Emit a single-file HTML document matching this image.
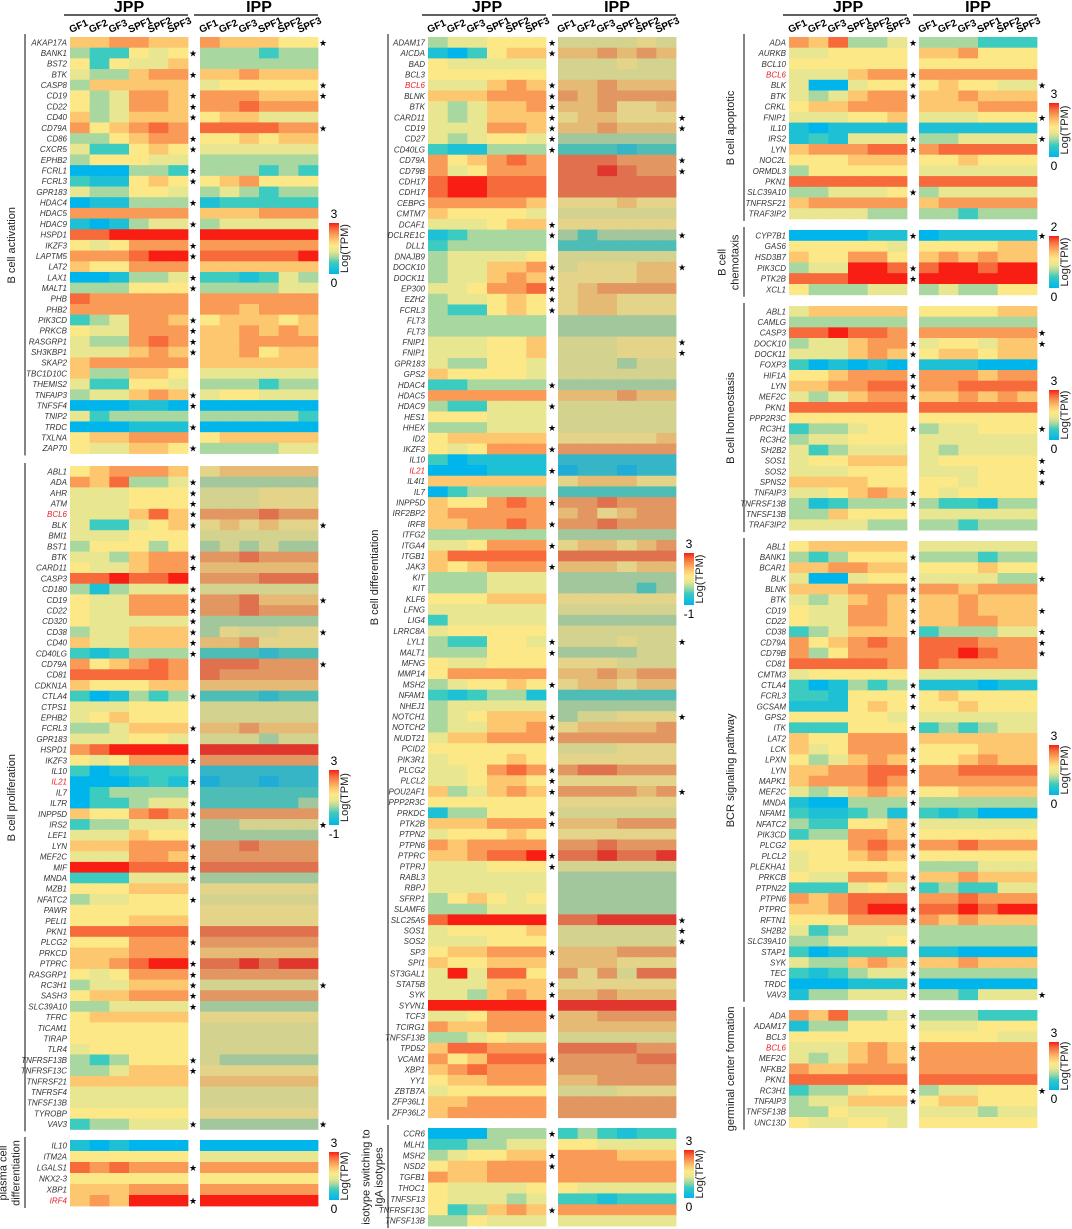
<!DOCTYPE html>
<html><head><meta charset="utf-8">
<style>
html,body{margin:0;padding:0;background:#fff;}
svg{display:block;font-family:"Liberation Sans",sans-serif;}
.g{font-size:8px;font-style:italic;fill:#333;}
.st{font-size:9px;fill:#000;}
.hd{font-size:16px;font-weight:bold;fill:#000;}
.sm{font-size:10px;font-weight:bold;fill:#000;}
.side{font-size:11px;fill:#222;}
.cb{font-size:12px;fill:#000;}
</style></head>
<body>
<svg id="fig" width="1072" height="1229" viewBox="0 0 1072 1229"></svg>
<script>
// ---------- DATA ----------
const act_genes=["AKAP17A","BANK1","BST2","BTK","CASP8","CD19","CD22","CD40","CD79A","CD86","CXCR5","EPHB2","FCRL1","FCRL3","GPR183","HDAC4","HDAC5","HDAC9","HSPD1","IKZF3","LAPTM5","LAT2","LAX1","MALT1","PHB","PHB2","PIK3CD","PRKCB","RASGRP1","SH3KBP1","SKAP2","TBC1D10C","THEMIS2","TNFAIP3","TNFSF4","TNIP2","TRDC","TXLNA","ZAP70"];
const act_vals=["667766766655","322545333233","525446333333","433677667666","366666455555","534776777666","534776778777","634666566444","756787888877","335677556566","422565444444","355544333333","000332333232","211565567555","433554343233","011333122222","777777666777","101344344444","889999999999","545777777777","777899888889","655777666666","001334221243","333555333344","877777777777","777777776777","234776566656","544777667676","433787667777","444676667566","677777666666","633665444444","422554333233","344676455444","000110000000","423333333332","000111000000","566777566666","544665333344"];
const act_stars=["2","1","","1","2","12","1","1","2","1","1","","1","1","","1","","1","","1","1","","1","1","","","1","1","1","1","","","","1","1","","1","","1"];

const pro_genes=["ABL1","ADA","AHR","ATM","BCL6","BLK","BMI1","BST1","BTK","CARD11","CASP3","CD180","CD19","CD22","CD320","CD38","CD40","CD40LG","CD79A","CD81","CDKN1A","CTLA4","CTPS1","EPHB2","FCRL3","GPR183","HSPD1","IKZF3","IL10","IL21","IL7","IL7R","INPP5D","IRS2","LEF1","LYN","MEF2C","MIF","MNDA","MZB1","NFATC2","PAWR","PELI1","PKN1","PLCG2","PRKCD","PTPRC","RASGRP1","RC3H1","SASH3","SLC39A10","TFRC","TICAM1","TIRAP","TLR4","TNFRSF13B","TNFRSF13C","TNFRSF21","TNFRSF4","TNFSF13B","TYROBP","VAV3"];
const pro_vals=["567776566666","768334333333","444555444555","444555444555","444686777877","422456565655","444555444444","355535343433","443677778777","544677666666","889889777888","313444444444","544777778666","544777778777","544444333333","344666354455","644666667555","212333222122","756787888777","888887877777","655566666666","201323222122","444555444444","456555444444","334666667666","444554444344","789999999999","545777777777","201222111111","000121011011","023333222222","022344222223","655787777777","233444334444","444655333333","666777778777","444776777777","999888888888","222444333333","555666555555","344555444444","555555555555","555666555555","888888888888","555777777777","666777666666","667899889899","545777777777","344666444444","566777777777","334444333333","566666555555","555555444444","555555444444","455555444444","323555433333","334666555555","666666666666","444444444444","444444444444","555555555555","233444333333"];
const pro_stars=["","1","1","1","1","12","","","1","1","","1","12","1","1","12","1","1","2","","","1","","","1","","","1","","1","","1","1","12","","1","1","1","1","","1","","","","1","","1","1","12","1","1","","","","","1","1","","","","","12"];

const pla_genes=["IL10","ITM2A","LGALS1","NKX2-3","XBP1","IRF4"];
const pla_vals=["101000000000","555555444444","878777777777","555555555555","666777777777","676999999999"];
const pla_stars=["","","1","","","1"];

const dif_genes=["ADAM17","AICDA","BAD","BCL3","BCL6","BLNK","BTK","CARD11","CD19","CD27","CD40LG","CD79A","CD79B","CDH17","CDH17","CEBPG","CMTM7","DCAF1","DCLRE1C","DLL1","DNAJB9","DOCK10","DOCK11","EP300","EZH2","FCRL3","FLT3","FLT3","FNIP1","FNIP1","GPR183","GPS2","HDAC4","HDAC5","HDAC9","HES1","HHEX","ID2","IKZF3","IL10","IL21","IL4I1","IL7","INPP5D","IRF2BP2","IRF8","ITFG2","ITGA4","ITGB1","JAK3","KIT","KIT","KLF6","LFNG","LIG4","LRRC8A","LYL1","MALT1","MFNG","MMP14","MSH2","NFAM1","NHEJ1","NOTCH1","NOTCH2","NUDT21","PCID2","PIK3R1","PLCG2","PLCL2","POU2AF1","PPP2R3C","PRKDC","PTK2B","PTPN2","PTPN6","PTPRC","PTPRJ","RABL3","RBPJ","SFRP1","SLAMF6","SLC25A5","SOS1","SOS2","SP3","SPI1","ST3GAL1","STAT5B","SYK","SYVN1","TCF3","TCIRG1","TNFSF13B","TPD52","VCAM1","XBP1","YY1","ZBTB7A","ZFP36L1","ZFP36L2"];
const dif_vals=["344555444454","102566667676","544444444544","555555444444","444676667666","666777767777","434667667556","434666566555","444776667666","434554333333","211333222122","756787888777","745777889877","899888888888","899888888888","777776555655","655554444444","444566555555","123333323333","233333222222","344445444444","344667455566","344676555566","445778567777","344565566555","322565566555","333333333333","333333333333","444556444555","444556444555","433554444344","655554444444","223333333333","777777666766","322444444444","555444444444","333444444444","566666555556","545777777777","201111111111","000111011011","666666566655","023333222222","655787778777","677777675677","667787778777","333333333333","445777566567","688888888888","656777666566","333444333333","333444333323","555666555555","444444444444","244444333333","455555444444","322554444544","333555333344","544555555444","577777667677","345565566566","212331222222","344444333333","345666344555","344667566667","466777777777","555555444555","455565555555","445787788777","445665555555","634676777767","555555555555","133555444444","666777666777","455565555555","767777778777","667889889889","444555444444","444444333333","444444333333","356545333333","333444333333","899999889999","455556444444","444555444444","566777666777","655666666555","494885757488","444666555555","443676667666","999999999999","445777667777","766777666666","334544444444","688777888877","756888777788","678777777777","566777667777","455555444555","667777777777","677777777777"];
const dif_stars=["1","1","","","1","1","1","12","12","1","1","2","2","","","","","1","12","","","12","1","1","1","1","","","2","2","","","1","","1","","1","","1","","1","","","1","","1","","1","","1","","","","","","","12","1","","","1","","","12","1","1","","","1","1","12","","1","1","","","1","1","","","","","2","2","2","1","","","1","1","","1","","","","1","","","","",""];

const iso_genes=["CCR6","MLH1","MSH2","NSD2","TGFB1","THOC1","TNFSF13","TNFRSF13C","TNFSF13B"];
const iso_vals=["000333232122","223344554444","345566777666","566777777777","766777777777","544445544444","544434221222","523676777777","335444444444"];
const iso_stars=["1","","1","1","","","","1",""];

const apo_genes=["ADA","AURKB","BCL10","BCL6","BLK","BTK","CRKL","FNIP1","IL10","IRS2","LYN","NOC2L","ORMDL3","PKN1","SLC39A10","TNFRSF21","TRAF3IP2"];
const apo_vals=["768334333222","445555667555","555555555555","444677777777","400455565544","434677667666","566777666777","444556444555","101111111111","121444334444","677788788888","555666556555","355555444444","888888888888","334445344444","677777677777","444433332333"];
const apo_stars=["1","","","1","12","1","","2","","12","1","","","","1","",""];

const che_genes=["CYP7B1","GAS6","HSD3B7","PIK3CD","PTK2B","XCL1"];
const che_vals=["000011011111","555554555566","655775676766","344998899899","888999999999","533344343355"];
const che_stars=["12","","","1","1",""];

const hom_genes=["ABL1","CAMLG","CASP3","DOCK10","DOCK11","FOXP3","HIF1A","LYN","MEF2C","PKN1","PPP2R3C","RC3H1","RC3H2","SH2B2","SOS1","SOS2","SPNS2","TNFAIP3","TNFRSF13B","TNFSF13B","TRAF3IP2"];
const hom_vals=["466666555566","333333333333","889887777777","344677455466","444676566566","201010111000","556777777677","667788778888","434677667676","888888888888","555555555555","233455344555","344555444444","423444434444","455666455555","444555444555","666655554555","445676545555","312333322133","336555444444","444433332333"];
const hom_stars=["","","2","12","1","","1","1","1","","","12","","","2","2","2","1","1","",""];

const bcr_genes=["ABL1","BANK1","BCAR1","BLK","BLNK","BTK","CD19","CD22","CD38","CD79A","CD79B","CD81","CMTM3","CTLA4","FCRL3","GCSAM","GPS2","ITK","LAT2","LCK","LPXN","LYN","MAPK1","MEF2C","MNDA","NFAM1","NFATC2","PIK3CD","PLCG2","PLCL2","PLEKHA1","PRKCB","PTPN22","PTPN6","PTPRC","RFTN1","SH2B2","SLC39A10","STAP1","SYK","TEC","TRDC","VAV3"];
const bcr_vals=["566666444444","323555333233","667766555655","400455444433","666777776777","434676667666","544776667666","544776667766","234666233344","756787888777","735777889877","888887877777","455555444444","201323111011","221555565555","111565556555","555554444444","222555232344","655777666666","645777555666","534676556766","667788778888","677787777777","434676556666","100333333333","211231212000","322556444444","233776555555","555787778777","455676555555","455555333444","544776667666","222454232244","767888778777","667899889899","555777767666","423444333333","334445333333","201222110000","433676667666","212344333333","000111000000","133444332444"];
const bcr_stars=["","1","","12","1","1","12","1","12","2","2","","","1","1","1","","1","","1","1","1","","1","1","","1","1","1","1","","1","1","","1","1","","1","","1","1","1","12"];

const ger_genes=["ADA","ADAM17","BCL3","BCL6","MEF2C","NFKB2","PKN1","RC3H1","TNFAIP3","TNFSF13B","UNC13D"];
const ger_vals=["768334333222","133555444555","555555555544","444676777777","434676777777","766777777777","888888888888","233455344555","344666566555","335444444344","544554555555"];
const ger_stars=["1","1","","1","1","","","12","1","",""];

const samples=["GF1","GF2","GF3","SPF1","SPF2","SPF3"];
const redGenes=["BCL6","IL21","IRF4"];

// ---------- RENDER ----------
const NS="http://www.w3.org/2000/svg";
const svg=document.getElementById("fig");
function mk(tag,attrs,parent){const e=document.createElementNS(NS,tag);for(const k in attrs)e.setAttribute(k,attrs[k]);(parent||svg).appendChild(e);return e;}
const stops=[[0,[0,181,236]],[2,[60,203,192]],[3,[168,216,160]],[4,[232,230,144]],[5,[253,232,136]],[6,[253,199,111]],[7,[250,154,87]],[8,[246,106,60]],[9,[248,30,20]]];
function color(v,muted){let c=stops[stops.length-1][1];
 for(let i=0;i<stops.length-1;i++){const a=stops[i],b=stops[i+1];if(v>=a[0]&&v<=b[0]){const t=(v-a[0])/(b[0]-a[0]);c=a[1].map((x,j)=>x+(b[1][j]-x)*t);break;}}
 if(muted)c=c.map(x=>x*0.78+140*0.22);
 return "rgb("+c.map(Math.round).join(",")+")";}

const cols=[
 {lab:67,jx:70,ix:200,s1:193,s2:323,line:25,cb:329},
 {lab:425,jx:428,ix:558,s1:552,s2:682,line:388,cb:684},
 {lab:786,jx:789,ix:919,s1:913,s2:1042,line:744,cb:1049}];
const W=118,CW=W/6;

function header(c){
 [["JPP",c.jx],["IPP",c.ix]].forEach(([t,x])=>{
  const h=mk("text",{x:x+W/2,y:12,"text-anchor":"middle",class:"hd"});h.textContent=t;
  
  
  const l=mk("line",{x1:x-6,x2:x+W,y1:15,y2:15,stroke:"#000","stroke-width":1.3});
  
  
  samples.forEach((s,i)=>{const tx=x+CW*i+1;const e=mk("text",{x:tx,y:33,class:"sm",transform:`rotate(-24 ${tx} 33)`});e.textContent=s;
   
   });
 });
}
cols.forEach(header);

function section(ci,name,genes,vals,stars,y0,rh,muted,label,cbinfo){
 const c=cols[ci];
 const g=mk("g",{});
 
 
 genes.forEach((gn,r)=>{
  const y=y0+r*rh;
  const v=vals[r].split("").map(Number);
  for(let k=0;k<12;k++){
   const x=(k<6?c.jx:c.ix)+CW*(k%6);
   const rc=mk("rect",{x:x.toFixed(2),y:y.toFixed(2),width:(CW+0.4).toFixed(2),height:(rh+0.4).toFixed(2),fill:color(v[k],muted&&k>=6)},g);
   
   
  }
  const t=mk("text",{x:c.lab,y:y+rh/2+3,"text-anchor":"end",class:"g"},g);
  if(redGenes.includes(gn))t.setAttribute("style","fill:#e8202a");
  t.textContent=gn;
  
  
  const s=stars[r]||"";
  if(s.includes("1")){const e=mk("text",{x:c.s1,y:y+rh/2+3.5,"text-anchor":"middle",class:"st"},g);e.textContent="★";
   
   }
  if(s.includes("2")){const e=mk("text",{x:c.s2,y:y+rh/2+3.5,"text-anchor":"middle",class:"st"},g);e.textContent="★";
   
   }
 });
 const y1=y0+genes.length*rh;
 const ln=mk("line",{x1:c.line,x2:c.line,y1:y0-3,y2:y1+2,stroke:"#333","stroke-width":1.2});
 
 
 const cy=(y0+y1)/2, lx=c.line-10;
 const lines=label.split("|");
 lines.forEach((L,i)=>{const off=(i-(lines.length-1)/2)*13;const x=lx+off-(lines.length>1?2:0);
  const t=mk("text",{x:x,y:cy,"text-anchor":"middle",class:"side",transform:`rotate(-90 ${x} ${cy})`});t.textContent=L;
  
  });
 if(cbinfo){
  const [top,h,hi,lo]=cbinfo;const x=c.cb;
  const gid="grad-"+name;
  const defs=mk("defs",{});const lg=mk("linearGradient",{id:gid,x1:0,y1:1,x2:0,y2:0},defs);
  for(let i=0;i<=9;i++){mk("stop",{offset:(i/9).toFixed(3),"stop-color":color(i,false)},lg);}
  const r=mk("rect",{x:x,y:top,width:10,height:h,fill:`url(#${gid})`});
  
  
  const a=mk("text",{x:x+5,y:top-5,"text-anchor":"middle",class:"cb"});a.textContent=hi;
  
  
  const b=mk("text",{x:x+5,y:top+h+13,"text-anchor":"middle",class:"cb"});b.textContent=lo;
  
  
  const lx2=x+19,ly=top+h/2;
  const t=mk("text",{x:lx2,y:ly,"text-anchor":"middle",class:"side",transform:`rotate(-90 ${lx2} ${ly})`});t.textContent="Log(TPM)";
  
  
 }
}

section(0,"b-cell-activation",act_genes,act_vals,act_stars,37,10.68,false,"B cell activation",[223,51,"3","0"]);
section(0,"b-cell-proliferation",pro_genes,pro_vals,pro_stars,466,10.7,true,"B cell proliferation",[770,55,"3","-1"]);
section(0,"plasma-cell-differentiation",pla_genes,pla_vals,pla_stars,1140,11,false,"plasma cell|differentiation",[1152,48,"3","0"]);
section(1,"b-cell-differentiation",dif_genes,dif_vals,dif_stars,37,10.7,true,"B cell differentiation",[553,52,"3","-1"]);
section(1,"isotype-switching",iso_genes,iso_vals,iso_stars,1128,10.9,false,"isotype switching to|IgA isotypes",[1150,48,"3","0"]);
section(2,"b-cell-apoptotic",apo_genes,apo_vals,apo_stars,37,10.7,false,"B cell apoptotic",[103,54,"3","0"]);
section(2,"b-cell-chemotaxis",che_genes,che_vals,che_stars,230,10.8,false,"B cell|chemotaxis",[236,52,"2","0"]);
section(2,"b-cell-homeostasis",hom_genes,hom_vals,hom_stars,306,10.67,false,"B cell homeostasis",[390,50,"3","0"]);
section(2,"bcr-signaling",bcr_genes,bcr_vals,bcr_stars,541,10.67,false,"BCR signaling pathway",[745,50,"3","0"]);
section(2,"germinal-center-formation",ger_genes,ger_vals,ger_stars,1010,10.7,false,"germinal center formation",[1042,48,"3","0"]);
</script>
</body></html>
